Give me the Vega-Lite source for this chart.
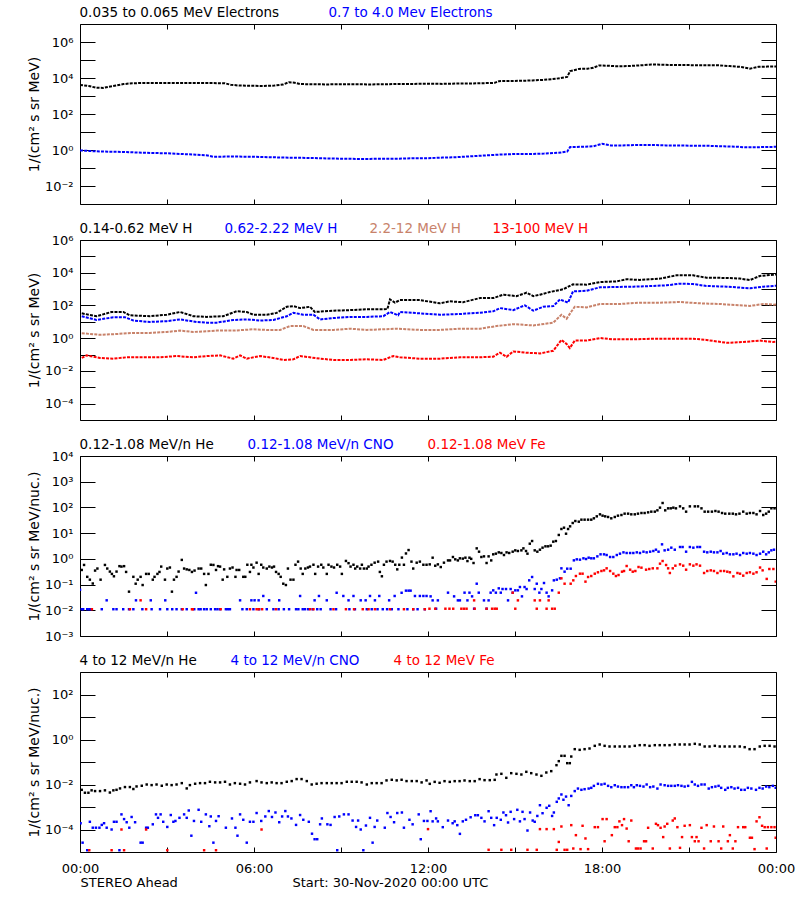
{
"$schema": "https://vega.github.io/schema/vega-lite/v6.json",
"background": "white",
"padding": {"left": 26, "top": 5, "right": 2, "bottom": 5},
"spacing": 36,
"bounds": "flush",
"resolve": {"scale": {"color": "independent"}, "legend": {"color": "independent"}},
"datasets": {
"e1": [{"h":0,"v":4100},{"h":0.3,"v":3600},{"h":0.55,"v":2900},{"h":0.8,"v":2800},{"h":1.0,"v":3300},{"h":1.25,"v":3800},{"h":1.5,"v":4600},{"h":1.8,"v":5100},{"h":2.2,"v":5300},{"h":2.6,"v":5200},{"h":3.0,"v":5300},{"h":3.4,"v":5200},{"h":3.8,"v":5300},{"h":4.2,"v":5200},{"h":4.6,"v":5200},{"h":5.0,"v":5100},{"h":5.2,"v":4200},{"h":5.5,"v":3800},{"h":5.9,"v":3700},{"h":6.3,"v":3600},{"h":6.7,"v":3800},{"h":7.0,"v":4300},{"h":7.2,"v":5800},{"h":7.4,"v":5500},{"h":7.6,"v":4600},{"h":8.0,"v":4500},{"h":8.5,"v":4400},{"h":9.0,"v":4500},{"h":9.5,"v":4500},{"h":10.0,"v":4400},{"h":10.5,"v":4500},{"h":11.0,"v":4700},{"h":11.5,"v":4700},{"h":12.0,"v":4800},{"h":12.5,"v":4700},{"h":13.0,"v":4900},{"h":13.5,"v":5000},{"h":14.0,"v":5200},{"h":14.3,"v":5400},{"h":14.45,"v":6700},{"h":14.8,"v":6800},{"h":15.2,"v":7000},{"h":15.6,"v":7300},{"h":16.0,"v":7900},{"h":16.4,"v":9000},{"h":16.8,"v":11500},{"h":16.9,"v":24000},{"h":17.2,"v":32000},{"h":17.5,"v":33000},{"h":17.7,"v":37000},{"h":17.9,"v":50000},{"h":18.2,"v":48000},{"h":18.5,"v":45000},{"h":18.9,"v":46000},{"h":19.3,"v":50000},{"h":19.7,"v":56000},{"h":20.1,"v":55000},{"h":20.5,"v":52000},{"h":21.0,"v":52000},{"h":21.5,"v":51000},{"h":22.0,"v":51000},{"h":22.4,"v":46000},{"h":22.8,"v":41000},{"h":23.1,"v":33000},{"h":23.4,"v":42000},{"h":23.7,"v":43000},{"h":24.0,"v":43000}],
"e2": [{"h":0,"v":0.95},{"h":0.5,"v":0.85},{"h":1.0,"v":0.8},{"h":1.5,"v":0.78},{"h":2.0,"v":0.72},{"h":2.5,"v":0.68},{"h":3.0,"v":0.66},{"h":3.5,"v":0.6},{"h":4.0,"v":0.55},{"h":4.4,"v":0.5},{"h":4.6,"v":0.42},{"h":5.0,"v":0.43},{"h":5.5,"v":0.43},{"h":6.0,"v":0.42},{"h":6.5,"v":0.4},{"h":7.0,"v":0.38},{"h":7.5,"v":0.37},{"h":8.0,"v":0.36},{"h":8.5,"v":0.34},{"h":9.0,"v":0.33},{"h":9.5,"v":0.32},{"h":10.0,"v":0.32},{"h":10.5,"v":0.33},{"h":11.0,"v":0.33},{"h":11.5,"v":0.35},{"h":12.0,"v":0.35},{"h":12.5,"v":0.38},{"h":13.0,"v":0.4},{"h":13.5,"v":0.45},{"h":14.0,"v":0.5},{"h":14.5,"v":0.56},{"h":15.0,"v":0.6},{"h":15.5,"v":0.6},{"h":16.0,"v":0.63},{"h":16.5,"v":0.7},{"h":16.8,"v":0.82},{"h":16.9,"v":1.45},{"h":17.3,"v":1.5},{"h":17.7,"v":1.6},{"h":18.0,"v":2.2},{"h":18.3,"v":1.8},{"h":18.7,"v":1.8},{"h":19.2,"v":1.9},{"h":19.7,"v":1.9},{"h":20.2,"v":1.8},{"h":20.7,"v":1.8},{"h":21.2,"v":1.7},{"h":21.7,"v":1.7},{"h":22.2,"v":1.6},{"h":22.7,"v":1.5},{"h":23.0,"v":1.4},{"h":23.5,"v":1.45},{"h":24.0,"v":1.5}],
"h1": [{"h":0.06,"v":33},{"h":0.57,"v":22},{"h":1.09,"v":40},{"h":1.49,"v":40},{"h":1.72,"v":25},{"h":2.41,"v":22},{"h":2.99,"v":27},{"h":3.45,"v":40},{"h":3.91,"v":22},{"h":4.37,"v":20},{"h":4.94,"v":22},{"h":5.4,"v":44},{"h":5.75,"v":40},{"h":5.98,"v":27},{"h":6.44,"v":27},{"h":6.78,"v":35},{"h":7.13,"v":83},{"h":7.36,"v":91},{"h":7.59,"v":69},{"h":7.93,"v":83},{"h":8.1,"v":40},{"h":8.74,"v":48},{"h":9.31,"v":52},{"h":9.89,"v":58},{"h":10.46,"v":58},{"h":10.6,"v":60},{"h":10.69,"v":234},{"h":10.86,"v":148},{"h":11.03,"v":214},{"h":11.72,"v":214},{"h":12.41,"v":135},{"h":12.75,"v":178},{"h":13.21,"v":158},{"h":13.79,"v":282},{"h":14.25,"v":282},{"h":14.6,"v":457},{"h":15.05,"v":372},{"h":15.4,"v":603},{"h":15.63,"v":372},{"h":15.86,"v":457},{"h":16.2,"v":661},{"h":16.66,"v":977},{"h":17.0,"v":1950},{"h":17.47,"v":1860},{"h":17.93,"v":2690},{"h":18.5,"v":2950},{"h":18.85,"v":3980},{"h":19.3,"v":3630},{"h":20.0,"v":4370},{"h":20.57,"v":6920},{"h":21.14,"v":6920},{"h":21.6,"v":5010},{"h":22.3,"v":4790},{"h":22.75,"v":4370},{"h":23.1,"v":3550},{"h":23.44,"v":6310},{"h":23.9,"v":7590},{"h":24.0,"v":7800}],
"h2": [{"h":0.06,"v":22},{"h":0.57,"v":13},{"h":1.15,"v":19},{"h":1.55,"v":19},{"h":1.84,"v":12},{"h":2.41,"v":9.8},{"h":2.99,"v":11},{"h":3.45,"v":14},{"h":4.02,"v":9.8},{"h":4.37,"v":8.9},{"h":4.71,"v":8.9},{"h":5.29,"v":13},{"h":5.75,"v":14},{"h":6.21,"v":12},{"h":6.67,"v":13},{"h":7.13,"v":22},{"h":7.36,"v":36},{"h":7.7,"v":27},{"h":8.05,"v":27},{"h":8.28,"v":14},{"h":8.74,"v":17},{"h":9.31,"v":20},{"h":9.89,"v":20},{"h":10.46,"v":22},{"h":10.69,"v":40},{"h":10.97,"v":25},{"h":11.03,"v":40},{"h":11.72,"v":33},{"h":12.41,"v":27},{"h":13.1,"v":30},{"h":13.79,"v":36},{"h":14.25,"v":44},{"h":14.48,"v":69},{"h":14.94,"v":52},{"h":15.34,"v":102},{"h":15.63,"v":48},{"h":15.97,"v":83},{"h":16.32,"v":91},{"h":16.55,"v":234},{"h":16.83,"v":148},{"h":17.0,"v":724},{"h":17.47,"v":794},{"h":17.93,"v":1290},{"h":18.5,"v":1350},{"h":19.08,"v":1410},{"h":19.77,"v":1550},{"h":20.23,"v":1700},{"h":20.68,"v":2140},{"h":21.14,"v":2040},{"h":21.6,"v":1550},{"h":22.3,"v":1410},{"h":23.1,"v":1120},{"h":23.56,"v":1410},{"h":23.9,"v":1550},{"h":24.0,"v":1600}],
"h3": [{"h":0.06,"v":2.0},{"h":0.69,"v":1.6},{"h":1.26,"v":1.8},{"h":1.84,"v":2.1},{"h":2.41,"v":2.1},{"h":2.99,"v":2.4},{"h":3.45,"v":2.9},{"h":3.91,"v":2.4},{"h":4.71,"v":2.9},{"h":5.29,"v":2.9},{"h":5.98,"v":3.5},{"h":6.44,"v":3.2},{"h":6.9,"v":3.2},{"h":7.24,"v":5.5},{"h":7.7,"v":5.5},{"h":8.05,"v":3.2},{"h":8.74,"v":3.2},{"h":9.31,"v":3.8},{"h":9.89,"v":3.2},{"h":10.46,"v":3.5},{"h":10.92,"v":3.8},{"h":11.72,"v":3.2},{"h":12.41,"v":3.2},{"h":13.1,"v":3.8},{"h":13.79,"v":3.8},{"h":14.36,"v":5.5},{"h":14.94,"v":7.2},{"h":15.63,"v":6.0},{"h":16.32,"v":8.9},{"h":16.6,"v":27},{"h":16.78,"v":15.5},{"h":16.95,"v":44},{"h":17.06,"v":83},{"h":17.47,"v":76},{"h":17.93,"v":123},{"h":18.62,"v":123},{"h":19.31,"v":148},{"h":20.0,"v":148},{"h":20.68,"v":162},{"h":21.37,"v":135},{"h":22.06,"v":123},{"h":23.1,"v":93},{"h":23.56,"v":123},{"h":23.9,"v":112},{"h":24.0,"v":115}],
"h4": [{"h":0.06,"v":0.062},{"h":0.23,"v":0.089},{"h":0.69,"v":0.062},{"h":1.15,"v":0.056},{"h":1.61,"v":0.068},{"h":2.18,"v":0.068},{"h":2.76,"v":0.068},{"h":3.33,"v":0.081},{"h":3.91,"v":0.068},{"h":4.37,"v":0.081},{"h":4.83,"v":0.089},{"h":5.29,"v":0.056},{"h":5.52,"v":0.089},{"h":5.75,"v":0.056},{"h":6.21,"v":0.081},{"h":6.67,"v":0.062},{"h":7.01,"v":0.047},{"h":7.36,"v":0.051},{"h":7.59,"v":0.081},{"h":8.28,"v":0.056},{"h":8.74,"v":0.047},{"h":9.31,"v":0.047},{"h":9.89,"v":0.051},{"h":10.46,"v":0.047},{"h":10.8,"v":0.081},{"h":11.03,"v":0.068},{"h":11.72,"v":0.056},{"h":12.41,"v":0.056},{"h":13.1,"v":0.068},{"h":13.79,"v":0.068},{"h":14.25,"v":0.074},{"h":14.48,"v":0.129},{"h":14.71,"v":0.074},{"h":14.94,"v":0.155},{"h":15.4,"v":0.129},{"h":15.86,"v":0.117},{"h":16.32,"v":0.17},{"h":16.6,"v":0.78},{"h":16.78,"v":0.44},{"h":16.89,"v":0.25},{"h":17.06,"v":0.71},{"h":17.47,"v":0.71},{"h":17.93,"v":1.02},{"h":18.39,"v":0.85},{"h":19.08,"v":0.85},{"h":19.77,"v":0.93},{"h":20.46,"v":0.93},{"h":21.14,"v":0.93},{"h":21.6,"v":0.78},{"h":22.3,"v":0.52},{"h":22.87,"v":0.58},{"h":23.44,"v":0.71},{"h":23.9,"v":0.58},{"h":24.0,"v":0.6}],
"a1": [{"h":0.06,"v":0.37},{"h":0.14,"v":0.58},{"h":0.25,"v":0.2},{"h":0.34,"v":0.155},{"h":0.44,"v":0.11},{"h":0.52,"v":0.35},{"h":0.6,"v":0.42},{"h":0.71,"v":0.155},{"h":0.86,"v":0.58},{"h":0.94,"v":0.42},{"h":1.03,"v":0.32},{"h":1.1,"v":0.26},{"h":1.17,"v":0.21},{"h":1.26,"v":0.32},{"h":1.36,"v":0.52},{"h":1.43,"v":0.5},{"h":1.52,"v":0.52},{"h":1.59,"v":0.31},{"h":1.69,"v":0.053},{"h":1.84,"v":0.2},{"h":1.92,"v":0.108},{"h":1.99,"v":0.155},{"h":2.09,"v":0.2},{"h":2.16,"v":0.096},{"h":2.28,"v":0.26},{"h":2.37,"v":0.26},{"h":2.51,"v":0.155},{"h":2.57,"v":0.2},{"h":2.67,"v":0.26},{"h":2.74,"v":0.31},{"h":2.8,"v":0.5},{"h":2.93,"v":0.155},{"h":3.01,"v":0.42},{"h":3.1,"v":0.46},{"h":3.17,"v":0.053},{"h":3.24,"v":0.155},{"h":3.33,"v":0.2},{"h":3.4,"v":0.32},{"h":3.51,"v":0.91},{"h":3.59,"v":0.42},{"h":3.68,"v":0.39},{"h":3.77,"v":0.37},{"h":3.86,"v":0.31},{"h":3.95,"v":0.35},{"h":4.09,"v":0.42},{"h":4.18,"v":0.42},{"h":4.28,"v":0.26},{"h":4.34,"v":0.096},{"h":4.43,"v":0.26},{"h":4.51,"v":0.59},{"h":4.6,"v":0.58},{"h":4.69,"v":0.37},{"h":4.76,"v":0.52},{"h":4.83,"v":0.5},{"h":4.92,"v":0.155},{"h":4.97,"v":0.39},{"h":5.08,"v":0.2},{"h":5.17,"v":0.42},{"h":5.26,"v":0.46},{"h":5.36,"v":0.2},{"h":5.4,"v":0.37},{"h":5.49,"v":0.37},{"h":5.63,"v":0.2},{"h":5.7,"v":0.2},{"h":5.77,"v":0.59},{"h":5.86,"v":0.31},{"h":5.91,"v":0.59},{"h":5.98,"v":0.46},{"h":6.09,"v":0.71},{"h":6.16,"v":0.26},{"h":6.25,"v":0.59},{"h":6.32,"v":0.46},{"h":6.44,"v":0.42},{"h":6.53,"v":0.5},{"h":6.62,"v":0.46},{"h":6.69,"v":0.5},{"h":6.76,"v":0.31},{"h":6.85,"v":0.26},{"h":6.92,"v":0.2},{"h":7.01,"v":0.108},{"h":7.1,"v":0.096},{"h":7.17,"v":0.42},{"h":7.26,"v":0.155},{"h":7.36,"v":0.155},{"h":7.43,"v":0.59},{"h":7.52,"v":0.78},{"h":7.61,"v":0.42},{"h":7.68,"v":0.26},{"h":7.77,"v":0.42},{"h":7.86,"v":0.46},{"h":7.93,"v":0.5},{"h":8.05,"v":0.59},{"h":8.11,"v":0.26},{"h":8.21,"v":0.5},{"h":8.32,"v":0.59},{"h":8.39,"v":0.46},{"h":8.51,"v":0.26},{"h":8.57,"v":0.59},{"h":8.67,"v":0.5},{"h":8.76,"v":0.46},{"h":8.87,"v":0.59},{"h":8.97,"v":0.5},{"h":9.03,"v":0.26},{"h":9.17,"v":0.83},{"h":9.26,"v":0.68},{"h":9.33,"v":0.5},{"h":9.43,"v":0.59},{"h":9.49,"v":0.42},{"h":9.56,"v":0.5},{"h":9.66,"v":0.42},{"h":9.72,"v":0.59},{"h":9.79,"v":0.42},{"h":9.89,"v":0.42},{"h":9.95,"v":0.5},{"h":10.05,"v":0.59},{"h":10.16,"v":0.71},{"h":10.28,"v":0.78},{"h":10.34,"v":0.31},{"h":10.41,"v":0.21},{"h":10.48,"v":0.59},{"h":10.57,"v":0.78},{"h":10.69,"v":0.83},{"h":10.78,"v":0.78},{"h":10.87,"v":0.59},{"h":10.94,"v":0.39},{"h":11.01,"v":0.59},{"h":11.1,"v":1.12},{"h":11.17,"v":0.59},{"h":11.24,"v":1.62},{"h":11.33,"v":2.2},{"h":11.43,"v":0.78},{"h":11.49,"v":0.42},{"h":11.61,"v":0.71},{"h":11.72,"v":0.78},{"h":11.84,"v":0.59},{"h":11.95,"v":0.59},{"h":12.06,"v":0.61},{"h":12.16,"v":1.11},{"h":12.25,"v":0.54},{"h":12.34,"v":0.61},{"h":12.44,"v":0.48},{"h":12.55,"v":0.71},{"h":12.69,"v":0.87},{"h":12.76,"v":0.87},{"h":12.86,"v":1.18},{"h":12.94,"v":0.96},{"h":13.03,"v":0.87},{"h":13.1,"v":1.05},{"h":13.2,"v":1.02},{"h":13.29,"v":1.11},{"h":13.36,"v":0.82},{"h":13.43,"v":1.11},{"h":13.49,"v":1.0},{"h":13.57,"v":0.69},{"h":13.68,"v":2.56},{"h":13.76,"v":1.9},{"h":13.84,"v":1.18},{"h":13.93,"v":1.25},{"h":14.02,"v":0.69},{"h":14.09,"v":1.25},{"h":14.18,"v":0.87},{"h":14.25,"v":1.5},{"h":14.34,"v":1.59},{"h":14.44,"v":1.79},{"h":14.53,"v":1.69},{"h":14.62,"v":1.41},{"h":14.71,"v":1.79},{"h":14.8,"v":1.69},{"h":14.92,"v":1.9},{"h":15.01,"v":2.14},{"h":15.1,"v":2.02},{"h":15.22,"v":2.14},{"h":15.29,"v":2.56},{"h":15.38,"v":2.02},{"h":15.43,"v":1.59},{"h":15.51,"v":3.89},{"h":15.59,"v":4.94},{"h":15.68,"v":2.14},{"h":15.77,"v":1.9},{"h":15.86,"v":2.27},{"h":15.95,"v":2.72},{"h":16.05,"v":3.07},{"h":16.14,"v":3.07},{"h":16.23,"v":3.26},{"h":16.32,"v":4.66},{"h":16.41,"v":4.94},{"h":16.51,"v":8.5},{"h":16.6,"v":14.5},{"h":16.69,"v":16.3},{"h":16.76,"v":9.5},{"h":16.83,"v":14.5},{"h":16.9,"v":18.4},{"h":16.99,"v":24.8},{"h":17.08,"v":29.6},{"h":17.2,"v":27.9},{"h":17.29,"v":33.4},{"h":17.4,"v":33.4},{"h":17.52,"v":33.4},{"h":17.63,"v":33.4},{"h":17.72,"v":37.7},{"h":17.82,"v":45},{"h":17.93,"v":53.9},{"h":18.02,"v":47.8},{"h":18.11,"v":45},{"h":18.21,"v":42.5},{"h":18.32,"v":37.7},{"h":18.44,"v":42.5},{"h":18.55,"v":47.8},{"h":18.67,"v":50.7},{"h":18.78,"v":57.2},{"h":18.9,"v":57.2},{"h":19.01,"v":53.9},{"h":19.13,"v":53.9},{"h":19.24,"v":57.2},{"h":19.36,"v":60.7},{"h":19.47,"v":60.7},{"h":19.59,"v":64.4},{"h":19.7,"v":68.4},{"h":19.82,"v":68.4},{"h":19.91,"v":77.1},{"h":20.0,"v":97.9},{"h":20.09,"v":148.6},{"h":20.18,"v":77.1},{"h":20.28,"v":92.2},{"h":20.37,"v":92.2},{"h":20.46,"v":97.9},{"h":20.55,"v":92.2},{"h":20.69,"v":110},{"h":20.8,"v":92.2},{"h":20.9,"v":68.4},{"h":21.03,"v":110},{"h":21.2,"v":110},{"h":21.31,"v":110},{"h":21.43,"v":92.2},{"h":21.54,"v":68.4},{"h":21.66,"v":68.4},{"h":21.79,"v":68.4},{"h":21.91,"v":72.6},{"h":22.02,"v":68.4},{"h":22.14,"v":60.7},{"h":22.25,"v":57.2},{"h":22.39,"v":57.2},{"h":22.51,"v":57.2},{"h":22.62,"v":53.9},{"h":22.74,"v":57.2},{"h":22.87,"v":68.4},{"h":22.99,"v":57.2},{"h":23.1,"v":60.7},{"h":23.22,"v":60.7},{"h":23.33,"v":53.9},{"h":23.45,"v":72.6},{"h":23.56,"v":50.7},{"h":23.66,"v":57.2},{"h":23.75,"v":68.4},{"h":23.84,"v":92.2},{"h":23.95,"v":92.2}],
"a2": [{"h":0.0,"v":0.063},{"h":0.06,"v":0.011},{"h":0.11,"v":0.011},{"h":0.25,"v":0.011},{"h":0.32,"v":0.011},{"h":0.37,"v":0.011},{"h":0.75,"v":0.011},{"h":0.92,"v":0.0244},{"h":1.15,"v":0.011},{"h":1.26,"v":0.011},{"h":1.49,"v":0.011},{"h":1.69,"v":0.011},{"h":1.84,"v":0.011},{"h":1.93,"v":0.0244},{"h":2.15,"v":0.011},{"h":2.44,"v":0.0244},{"h":2.47,"v":0.011},{"h":2.76,"v":0.011},{"h":2.94,"v":0.0244},{"h":3.01,"v":0.011},{"h":3.18,"v":0.011},{"h":3.33,"v":0.011},{"h":3.51,"v":0.011},{"h":3.68,"v":0.011},{"h":3.94,"v":0.011},{"h":4.0,"v":0.048},{"h":4.09,"v":0.011},{"h":4.16,"v":0.011},{"h":4.28,"v":0.011},{"h":4.37,"v":0.011},{"h":4.51,"v":0.011},{"h":4.66,"v":0.011},{"h":4.74,"v":0.011},{"h":4.83,"v":0.011},{"h":5.03,"v":0.011},{"h":5.1,"v":0.011},{"h":5.17,"v":0.011},{"h":5.52,"v":0.0244},{"h":5.6,"v":0.011},{"h":5.75,"v":0.011},{"h":5.91,"v":0.0244},{"h":5.98,"v":0.011},{"h":6.02,"v":0.0244},{"h":6.16,"v":0.0244},{"h":6.18,"v":0.011},{"h":6.32,"v":0.036},{"h":6.44,"v":0.011},{"h":6.52,"v":0.0244},{"h":6.67,"v":0.011},{"h":6.85,"v":0.011},{"h":6.87,"v":0.0244},{"h":7.03,"v":0.011},{"h":7.21,"v":0.011},{"h":7.45,"v":0.011},{"h":7.53,"v":0.011},{"h":7.59,"v":0.036},{"h":7.68,"v":0.011},{"h":7.76,"v":0.011},{"h":7.87,"v":0.011},{"h":8.02,"v":0.011},{"h":8.09,"v":0.0244},{"h":8.18,"v":0.011},{"h":8.24,"v":0.036},{"h":8.3,"v":0.011},{"h":8.51,"v":0.0244},{"h":8.64,"v":0.011},{"h":8.83,"v":0.011},{"h":8.85,"v":0.048},{"h":9.08,"v":0.036},{"h":9.26,"v":0.0244},{"h":9.29,"v":0.011},{"h":9.43,"v":0.036},{"h":9.48,"v":0.011},{"h":9.68,"v":0.0244},{"h":9.85,"v":0.0244},{"h":9.89,"v":0.011},{"h":10.0,"v":0.036},{"h":10.06,"v":0.011},{"h":10.17,"v":0.0244},{"h":10.26,"v":0.011},{"h":10.32,"v":0.036},{"h":10.44,"v":0.011},{"h":10.59,"v":0.011},{"h":10.66,"v":0.0244},{"h":10.75,"v":0.011},{"h":10.85,"v":0.036},{"h":10.98,"v":0.011},{"h":11.09,"v":0.048},{"h":11.24,"v":0.058},{"h":11.29,"v":0.011},{"h":11.33,"v":0.058},{"h":11.4,"v":0.058},{"h":11.49,"v":0.011},{"h":11.55,"v":0.036},{"h":11.64,"v":0.011},{"h":11.72,"v":0.036},{"h":11.84,"v":0.036},{"h":11.89,"v":0.011},{"h":11.95,"v":0.036},{"h":12.09,"v":0.0348},{"h":12.16,"v":0.0243},{"h":12.28,"v":0.0115},{"h":12.34,"v":0.0243},{"h":12.69,"v":0.0484},{"h":12.9,"v":0.0348},{"h":13.03,"v":0.0243},{"h":13.1,"v":0.0243},{"h":13.26,"v":0.0484},{"h":13.36,"v":0.0243},{"h":13.43,"v":0.0484},{"h":13.52,"v":0.0348},{"h":13.59,"v":0.0115},{"h":13.68,"v":0.108},{"h":13.75,"v":0.0484},{"h":13.93,"v":0.0243},{"h":14.02,"v":0.0115},{"h":14.09,"v":0.0243},{"h":14.16,"v":0.0484},{"h":14.25,"v":0.0596},{"h":14.34,"v":0.0484},{"h":14.44,"v":0.0713},{"h":14.51,"v":0.0484},{"h":14.57,"v":0.0671},{"h":14.69,"v":0.0671},{"h":14.76,"v":0.0243},{"h":14.85,"v":0.0671},{"h":14.92,"v":0.0484},{"h":15.01,"v":0.0596},{"h":15.1,"v":0.0596},{"h":15.17,"v":0.0803},{"h":15.24,"v":0.0348},{"h":15.33,"v":0.0803},{"h":15.4,"v":0.0671},{"h":15.49,"v":0.146},{"h":15.59,"v":0.197},{"h":15.68,"v":0.0671},{"h":15.75,"v":0.108},{"h":15.84,"v":0.0484},{"h":15.91,"v":0.0671},{"h":16.0,"v":0.115},{"h":16.09,"v":0.0484},{"h":16.16,"v":0.0348},{"h":16.28,"v":0.0596},{"h":16.34,"v":0.146},{"h":16.44,"v":0.155},{"h":16.55,"v":0.175},{"h":16.6,"v":0.428},{"h":16.71,"v":0.317},{"h":16.8,"v":0.415},{"h":16.92,"v":0.415},{"h":17.03,"v":0.875},{"h":17.13,"v":0.957},{"h":17.24,"v":0.929},{"h":17.36,"v":1.05},{"h":17.45,"v":0.986},{"h":17.54,"v":1.11},{"h":17.63,"v":1.05},{"h":17.72,"v":1.05},{"h":17.84,"v":1.25},{"h":17.95,"v":1.5},{"h":18.07,"v":1.5},{"h":18.16,"v":1.41},{"h":18.28,"v":1.18},{"h":18.39,"v":1.18},{"h":18.51,"v":1.41},{"h":18.62,"v":1.59},{"h":18.74,"v":1.79},{"h":18.85,"v":1.69},{"h":18.97,"v":1.69},{"h":19.08,"v":1.69},{"h":19.2,"v":1.79},{"h":19.31,"v":1.69},{"h":19.43,"v":1.9},{"h":19.54,"v":1.79},{"h":19.66,"v":1.9},{"h":19.77,"v":2.02},{"h":19.86,"v":2.27},{"h":19.95,"v":1.9},{"h":20.07,"v":3.67},{"h":20.16,"v":2.14},{"h":20.28,"v":2.27},{"h":20.39,"v":2.72},{"h":20.51,"v":2.27},{"h":20.69,"v":2.89},{"h":20.78,"v":2.89},{"h":20.9,"v":1.9},{"h":21.03,"v":2.89},{"h":21.15,"v":2.72},{"h":21.29,"v":2.89},{"h":21.38,"v":2.89},{"h":21.52,"v":1.9},{"h":21.63,"v":1.79},{"h":21.75,"v":1.9},{"h":21.86,"v":1.79},{"h":21.98,"v":1.79},{"h":22.09,"v":2.02},{"h":22.18,"v":1.59},{"h":22.3,"v":1.69},{"h":22.41,"v":1.5},{"h":22.53,"v":1.5},{"h":22.64,"v":1.59},{"h":22.76,"v":1.41},{"h":22.87,"v":1.69},{"h":22.99,"v":1.59},{"h":23.1,"v":1.69},{"h":23.22,"v":1.59},{"h":23.33,"v":1.41},{"h":23.45,"v":1.59},{"h":23.56,"v":1.9},{"h":23.66,"v":1.5},{"h":23.75,"v":1.79},{"h":23.84,"v":2.14},{"h":23.93,"v":2.27}],
"a3": [{"h":0.41,"v":0.011},{"h":1.72,"v":0.011},{"h":2.09,"v":0.0244},{"h":2.28,"v":0.011},{"h":3.54,"v":0.011},{"h":3.86,"v":0.011},{"h":3.89,"v":0.011},{"h":4.85,"v":0.011},{"h":5.86,"v":0.011},{"h":6.09,"v":0.011},{"h":6.16,"v":0.011},{"h":6.28,"v":0.011},{"h":6.76,"v":0.011},{"h":7.93,"v":0.011},{"h":8.05,"v":0.011},{"h":8.74,"v":0.011},{"h":9.17,"v":0.011},{"h":9.45,"v":0.011},{"h":9.75,"v":0.011},{"h":9.95,"v":0.011},{"h":10.17,"v":0.011},{"h":10.69,"v":0.011},{"h":11.17,"v":0.011},{"h":11.49,"v":0.011},{"h":11.89,"v":0.011},{"h":12.05,"v":0.0115},{"h":12.25,"v":0.0115},{"h":12.6,"v":0.0115},{"h":12.74,"v":0.0115},{"h":12.87,"v":0.0115},{"h":13.15,"v":0.0115},{"h":13.24,"v":0.0115},{"h":13.33,"v":0.0115},{"h":13.59,"v":0.0243},{"h":13.61,"v":0.0115},{"h":14.02,"v":0.0115},{"h":14.21,"v":0.0115},{"h":14.3,"v":0.0115},{"h":14.37,"v":0.0115},{"h":14.92,"v":0.0484},{"h":15.01,"v":0.0115},{"h":15.1,"v":0.0243},{"h":15.68,"v":0.0243},{"h":15.75,"v":0.0115},{"h":15.86,"v":0.0243},{"h":16.09,"v":0.0115},{"h":16.16,"v":0.0243},{"h":16.28,"v":0.0115},{"h":16.37,"v":0.0115},{"h":16.51,"v":0.0484},{"h":16.6,"v":0.175},{"h":16.71,"v":0.108},{"h":16.92,"v":0.108},{"h":17.01,"v":0.146},{"h":17.1,"v":0.215},{"h":17.24,"v":0.265},{"h":17.33,"v":0.265},{"h":17.43,"v":0.13},{"h":17.52,"v":0.197},{"h":17.63,"v":0.215},{"h":17.75,"v":0.265},{"h":17.86,"v":0.3},{"h":17.98,"v":0.337},{"h":18.07,"v":0.357},{"h":18.16,"v":0.428},{"h":18.28,"v":0.337},{"h":18.39,"v":0.265},{"h":18.48,"v":0.215},{"h":18.57,"v":0.235},{"h":18.69,"v":0.317},{"h":18.76,"v":0.337},{"h":18.85,"v":0.527},{"h":18.97,"v":0.379},{"h":19.06,"v":0.317},{"h":19.15,"v":0.337},{"h":19.26,"v":0.482},{"h":19.36,"v":0.454},{"h":19.52,"v":0.379},{"h":19.63,"v":0.403},{"h":19.75,"v":0.428},{"h":19.91,"v":0.428},{"h":20.0,"v":0.65},{"h":20.09,"v":0.824},{"h":20.21,"v":0.577},{"h":20.28,"v":0.428},{"h":20.34,"v":0.282},{"h":20.44,"v":0.428},{"h":20.53,"v":0.543},{"h":20.69,"v":0.612},{"h":20.8,"v":0.543},{"h":20.9,"v":0.379},{"h":21.03,"v":0.612},{"h":21.15,"v":0.543},{"h":21.26,"v":0.612},{"h":21.38,"v":0.543},{"h":21.52,"v":0.282},{"h":21.63,"v":0.337},{"h":21.75,"v":0.357},{"h":21.86,"v":0.337},{"h":21.98,"v":0.282},{"h":22.09,"v":0.337},{"h":22.21,"v":0.337},{"h":22.32,"v":0.317},{"h":22.41,"v":0.3},{"h":22.53,"v":0.209},{"h":22.67,"v":0.282},{"h":22.76,"v":0.265},{"h":22.87,"v":0.222},{"h":22.99,"v":0.282},{"h":23.1,"v":0.3},{"h":23.22,"v":0.265},{"h":23.33,"v":0.3},{"h":23.45,"v":0.46},{"h":23.54,"v":0.357},{"h":23.68,"v":0.166},{"h":23.77,"v":0.403},{"h":23.91,"v":0.403},{"h":23.99,"v":0.13}],
"b1": [{"h":0.06,"v":0.0058},{"h":0.17,"v":0.0043},{"h":0.29,"v":0.0043},{"h":0.4,"v":0.0055},{"h":0.52,"v":0.0051},{"h":0.69,"v":0.0051},{"h":0.86,"v":0.0055},{"h":1.03,"v":0.0044},{"h":1.15,"v":0.0055},{"h":1.26,"v":0.0058},{"h":1.38,"v":0.0067},{"h":1.55,"v":0.0077},{"h":1.72,"v":0.0077},{"h":1.84,"v":0.0063},{"h":1.95,"v":0.0082},{"h":2.13,"v":0.0088},{"h":2.3,"v":0.01},{"h":2.47,"v":0.0094},{"h":2.64,"v":0.01},{"h":2.82,"v":0.0088},{"h":2.99,"v":0.01},{"h":3.16,"v":0.0094},{"h":3.33,"v":0.01},{"h":3.51,"v":0.0115},{"h":3.68,"v":0.0067},{"h":3.79,"v":0.0094},{"h":3.97,"v":0.0108},{"h":4.14,"v":0.0115},{"h":4.31,"v":0.0115},{"h":4.48,"v":0.0132},{"h":4.66,"v":0.0124},{"h":4.83,"v":0.0124},{"h":5.0,"v":0.0132},{"h":5.17,"v":0.01},{"h":5.34,"v":0.0115},{"h":5.52,"v":0.0108},{"h":5.69,"v":0.01},{"h":5.86,"v":0.0124},{"h":6.09,"v":0.0142},{"h":6.26,"v":0.0124},{"h":6.44,"v":0.0115},{"h":6.61,"v":0.0124},{"h":6.78,"v":0.0115},{"h":6.95,"v":0.0115},{"h":7.13,"v":0.0132},{"h":7.3,"v":0.0142},{"h":7.47,"v":0.0174},{"h":7.64,"v":0.0174},{"h":7.82,"v":0.0142},{"h":7.99,"v":0.01},{"h":8.16,"v":0.0108},{"h":8.33,"v":0.0115},{"h":8.51,"v":0.0115},{"h":8.68,"v":0.0115},{"h":8.85,"v":0.0115},{"h":9.02,"v":0.0115},{"h":9.2,"v":0.0132},{"h":9.37,"v":0.0132},{"h":9.54,"v":0.0132},{"h":9.71,"v":0.0124},{"h":9.89,"v":0.01},{"h":10.06,"v":0.0115},{"h":10.23,"v":0.0115},{"h":10.4,"v":0.0115},{"h":10.57,"v":0.0152},{"h":10.75,"v":0.0162},{"h":10.92,"v":0.0152},{"h":11.09,"v":0.0162},{"h":11.26,"v":0.0142},{"h":11.44,"v":0.0142},{"h":11.61,"v":0.0142},{"h":11.78,"v":0.0124},{"h":11.95,"v":0.0152},{"h":12.06,"v":0.0107},{"h":12.23,"v":0.0131},{"h":12.4,"v":0.0119},{"h":12.57,"v":0.0141},{"h":12.75,"v":0.0131},{"h":12.92,"v":0.0141},{"h":13.09,"v":0.0141},{"h":13.26,"v":0.0151},{"h":13.44,"v":0.0141},{"h":13.61,"v":0.0141},{"h":13.78,"v":0.0173},{"h":13.95,"v":0.0156},{"h":14.13,"v":0.0156},{"h":14.3,"v":0.0161},{"h":14.36,"v":0.0278},{"h":14.53,"v":0.0298},{"h":14.7,"v":0.0198},{"h":14.87,"v":0.0319},{"h":15.05,"v":0.0298},{"h":15.22,"v":0.0278},{"h":15.39,"v":0.0366},{"h":15.56,"v":0.0319},{"h":15.74,"v":0.0278},{"h":15.91,"v":0.0243},{"h":16.08,"v":0.0341},{"h":16.25,"v":0.0392},{"h":16.43,"v":0.0723},{"h":16.51,"v":0.109},{"h":16.6,"v":0.188},{"h":16.71,"v":0.188},{"h":16.8,"v":0.0887},{"h":16.89,"v":0.0887},{"h":16.94,"v":0.175},{"h":17.06,"v":0.372},{"h":17.23,"v":0.347},{"h":17.4,"v":0.372},{"h":17.57,"v":0.398},{"h":17.75,"v":0.523},{"h":17.92,"v":0.6},{"h":18.09,"v":0.523},{"h":18.26,"v":0.489},{"h":18.44,"v":0.489},{"h":18.61,"v":0.489},{"h":18.78,"v":0.489},{"h":18.95,"v":0.489},{"h":19.13,"v":0.523},{"h":19.3,"v":0.56},{"h":19.47,"v":0.56},{"h":19.64,"v":0.523},{"h":19.82,"v":0.56},{"h":19.99,"v":0.56},{"h":20.16,"v":0.56},{"h":20.33,"v":0.56},{"h":20.51,"v":0.6},{"h":20.68,"v":0.6},{"h":20.85,"v":0.6},{"h":21.02,"v":0.6},{"h":21.2,"v":0.642},{"h":21.37,"v":0.6},{"h":21.54,"v":0.489},{"h":21.71,"v":0.489},{"h":21.89,"v":0.523},{"h":22.06,"v":0.489},{"h":22.23,"v":0.489},{"h":22.4,"v":0.489},{"h":22.57,"v":0.489},{"h":22.75,"v":0.489},{"h":22.92,"v":0.456},{"h":23.09,"v":0.372},{"h":23.26,"v":0.372},{"h":23.44,"v":0.489},{"h":23.61,"v":0.523},{"h":23.78,"v":0.523},{"h":23.95,"v":0.489}],
"b2": [{"h":0.02,"v":0.00019},{"h":0.09,"v":0.000026},{"h":0.25,"v":0.000012},{"h":0.34,"v":0.00022},{"h":0.44,"v":0.00012},{"h":0.55,"v":0.00012},{"h":0.67,"v":0.00012},{"h":0.75,"v":0.00016},{"h":0.83,"v":0.00019},{"h":0.92,"v":0.00012},{"h":1.09,"v":0.0001},{"h":1.17,"v":0.00022},{"h":1.26,"v":0.00022},{"h":1.36,"v":0.000012},{"h":1.43,"v":0.00047},{"h":1.52,"v":0.00029},{"h":1.61,"v":0.00021},{"h":1.7,"v":0.00012},{"h":1.78,"v":0.00036},{"h":1.9,"v":0.00021},{"h":2.09,"v":0.000026},{"h":2.16,"v":0.000026},{"h":2.28,"v":0.00012},{"h":2.34,"v":0.00012},{"h":2.51,"v":0.00017},{"h":2.62,"v":0.00047},{"h":2.69,"v":0.00033},{"h":2.78,"v":0.00047},{"h":2.87,"v":0.00022},{"h":3.01,"v":0.00013},{"h":3.13,"v":0.00044},{"h":3.22,"v":0.00022},{"h":3.29,"v":0.00024},{"h":3.43,"v":0.00033},{"h":3.59,"v":0.00047},{"h":3.68,"v":0.00033},{"h":3.75,"v":0.0007},{"h":3.84,"v":0.000053},{"h":3.93,"v":0.00024},{"h":4.09,"v":0.00075},{"h":4.18,"v":0.00022},{"h":4.34,"v":0.00047},{"h":4.46,"v":0.00014},{"h":4.51,"v":0.00038},{"h":4.6,"v":0.000026},{"h":4.69,"v":0.00024},{"h":4.78,"v":0.00039},{"h":5.03,"v":0.00012},{"h":5.24,"v":0.00031},{"h":5.36,"v":0.00012},{"h":5.43,"v":0.000053},{"h":5.52,"v":0.00047},{"h":5.63,"v":0.00027},{"h":5.75,"v":0.000026},{"h":5.86,"v":0.00022},{"h":5.98,"v":0.00022},{"h":6.09,"v":0.00054},{"h":6.25,"v":0.00024},{"h":6.39,"v":0.00038},{"h":6.51,"v":0.00066},{"h":6.62,"v":0.00036},{"h":6.74,"v":0.00057},{"h":6.87,"v":0.00021},{"h":6.97,"v":0.00038},{"h":7.08,"v":0.00066},{"h":7.17,"v":0.00038},{"h":7.29,"v":0.00031},{"h":7.45,"v":0.00016},{"h":7.59,"v":0.00044},{"h":7.7,"v":0.00027},{"h":7.89,"v":0.00022},{"h":8.0,"v":0.000065},{"h":8.09,"v":0.000037},{"h":8.18,"v":0.000037},{"h":8.28,"v":0.00017},{"h":8.34,"v":0.00031},{"h":8.53,"v":0.00017},{"h":8.64,"v":0.00016},{"h":8.78,"v":0.00036},{"h":8.87,"v":0.000012},{"h":8.94,"v":0.00038},{"h":9.1,"v":0.00047},{"h":9.26,"v":0.00047},{"h":9.4,"v":0.00025},{"h":9.52,"v":0.00013},{"h":9.59,"v":0.00025},{"h":9.68,"v":0.0001},{"h":9.77,"v":0.000012},{"h":9.86,"v":0.00015},{"h":10.0,"v":0.00033},{"h":10.09,"v":0.000026},{"h":10.16,"v":0.00013},{"h":10.25,"v":0.00025},{"h":10.51,"v":0.00012},{"h":10.6,"v":0.00054},{"h":10.71,"v":0.00036},{"h":10.83,"v":0.00021},{"h":10.94,"v":0.00054},{"h":11.1,"v":0.00057},{"h":11.17,"v":0.00012},{"h":11.36,"v":0.00027},{"h":11.47,"v":0.00017},{"h":11.68,"v":0.00047},{"h":11.75,"v":0.000037},{"h":11.86,"v":0.00024},{"h":11.98,"v":0.00024},{"h":12.09,"v":0.00065},{"h":12.16,"v":0.00023},{"h":12.28,"v":0.00031},{"h":12.34,"v":0.00023},{"h":12.51,"v":0.000127},{"h":12.69,"v":0.00025},{"h":12.85,"v":0.00019},{"h":12.92,"v":0.00023},{"h":13.01,"v":0.000156},{"h":13.1,"v":0.000064},{"h":13.2,"v":0.00023},{"h":13.31,"v":0.00027},{"h":13.47,"v":0.00035},{"h":13.63,"v":0.00043},{"h":13.72,"v":0.00043},{"h":13.84,"v":0.00033},{"h":13.95,"v":0.00023},{"h":14.09,"v":0.00065},{"h":14.18,"v":0.00033},{"h":14.28,"v":0.000156},{"h":14.37,"v":0.00033},{"h":14.51,"v":0.00027},{"h":14.6,"v":0.00057},{"h":14.69,"v":0.00043},{"h":14.76,"v":0.000205},{"h":14.85,"v":0.00061},{"h":14.97,"v":0.00029},{"h":15.08,"v":0.00075},{"h":15.17,"v":0.00023},{"h":15.26,"v":0.00061},{"h":15.33,"v":0.00029},{"h":15.43,"v":0.00009},{"h":15.52,"v":0.00057},{"h":15.61,"v":0.00025},{"h":15.68,"v":0.00022},{"h":15.77,"v":0.0004},{"h":15.86,"v":0.0012},{"h":15.95,"v":0.00053},{"h":16.09,"v":0.00092},{"h":16.18,"v":0.00113},{"h":16.28,"v":0.0004},{"h":16.34,"v":0.00057},{"h":16.44,"v":0.0017},{"h":16.51,"v":0.0024},{"h":16.6,"v":0.0036},{"h":16.67,"v":0.0021},{"h":16.76,"v":0.0029},{"h":16.85,"v":0.0012},{"h":16.94,"v":0.0031},{"h":17.06,"v":0.0051},{"h":17.17,"v":0.0066},{"h":17.29,"v":0.0058},{"h":17.4,"v":0.0062},{"h":17.54,"v":0.0066},{"h":17.63,"v":0.0071},{"h":17.72,"v":0.0087},{"h":17.86,"v":0.0107},{"h":17.98,"v":0.01},{"h":18.09,"v":0.0107},{"h":18.21,"v":0.0087},{"h":18.32,"v":0.0076},{"h":18.44,"v":0.0093},{"h":18.55,"v":0.0081},{"h":18.67,"v":0.0076},{"h":18.78,"v":0.0076},{"h":18.9,"v":0.0076},{"h":19.01,"v":0.0093},{"h":19.1,"v":0.0076},{"h":19.2,"v":0.0093},{"h":19.31,"v":0.0087},{"h":19.43,"v":0.0081},{"h":19.54,"v":0.01},{"h":19.66,"v":0.0076},{"h":19.77,"v":0.0081},{"h":19.91,"v":0.0066},{"h":20.02,"v":0.01},{"h":20.16,"v":0.0093},{"h":20.28,"v":0.0087},{"h":20.39,"v":0.0087},{"h":20.51,"v":0.0087},{"h":20.62,"v":0.0093},{"h":20.74,"v":0.0087},{"h":20.85,"v":0.0081},{"h":20.97,"v":0.0087},{"h":21.1,"v":0.0131},{"h":21.2,"v":0.01},{"h":21.31,"v":0.0087},{"h":21.43,"v":0.01},{"h":21.54,"v":0.01},{"h":21.68,"v":0.0066},{"h":21.79,"v":0.0076},{"h":21.91,"v":0.0081},{"h":22.02,"v":0.0087},{"h":22.11,"v":0.0071},{"h":22.25,"v":0.0058},{"h":22.34,"v":0.0071},{"h":22.46,"v":0.0076},{"h":22.57,"v":0.0066},{"h":22.69,"v":0.0071},{"h":22.8,"v":0.0058},{"h":22.92,"v":0.0058},{"h":23.03,"v":0.0071},{"h":23.15,"v":0.0066},{"h":23.31,"v":0.0058},{"h":23.43,"v":0.0071},{"h":23.54,"v":0.0066},{"h":23.66,"v":0.0081},{"h":23.77,"v":0.0076},{"h":23.89,"v":0.0087},{"h":23.99,"v":0.0071}],
"b3": [{"h":0.32,"v":0.000012},{"h":1.09,"v":0.000012},{"h":1.43,"v":0.0001},{"h":1.52,"v":0.000012},{"h":2.28,"v":0.0001},{"h":3.01,"v":0.000012},{"h":4.28,"v":0.000012},{"h":4.69,"v":0.000012},{"h":6.26,"v":0.0001},{"h":12.0,"v":0.000104},{"h":14.09,"v":0.0000125},{"h":14.53,"v":0.0000125},{"h":14.87,"v":0.0000125},{"h":15.43,"v":0.0000125},{"h":15.75,"v":0.0000125},{"h":15.86,"v":0.000104},{"h":16.09,"v":0.000104},{"h":16.34,"v":0.000104},{"h":16.44,"v":0.0000125},{"h":16.51,"v":0.000028},{"h":16.6,"v":0.000136},{"h":16.71,"v":0.0000125},{"h":16.8,"v":0.0000125},{"h":16.94,"v":0.000156},{"h":17.01,"v":0.0000143},{"h":17.1,"v":0.000056},{"h":17.26,"v":0.0000134},{"h":17.33,"v":0.000146},{"h":17.43,"v":0.00004},{"h":17.52,"v":0.0000134},{"h":17.75,"v":0.000127},{"h":17.86,"v":0.000127},{"h":18.02,"v":0.00029},{"h":18.09,"v":0.00003},{"h":18.16,"v":0.00029},{"h":18.34,"v":0.000056},{"h":18.44,"v":0.000127},{"h":18.53,"v":0.000127},{"h":18.6,"v":0.00023},{"h":18.69,"v":0.000156},{"h":18.76,"v":0.00029},{"h":18.85,"v":0.00011},{"h":18.92,"v":0.00003},{"h":19.01,"v":0.00025},{"h":19.17,"v":0.0000143},{"h":19.24,"v":0.0000143},{"h":19.33,"v":0.0000143},{"h":19.45,"v":0.00003},{"h":19.52,"v":0.00003},{"h":19.59,"v":0.000119},{"h":19.75,"v":0.0000143},{"h":19.86,"v":0.000179},{"h":19.93,"v":0.000156},{"h":20.02,"v":0.000119},{"h":20.11,"v":0.000046},{"h":20.16,"v":0.000136},{"h":20.25,"v":0.000179},{"h":20.34,"v":0.0000143},{"h":20.44,"v":0.00025},{"h":20.51,"v":0.00031},{"h":20.6,"v":0.000127},{"h":20.69,"v":0.0000153},{"h":20.76,"v":0.000046},{"h":20.85,"v":0.000146},{"h":21.03,"v":0.000156},{"h":21.1,"v":0.000046},{"h":21.2,"v":0.00003},{"h":21.26,"v":0.000046},{"h":21.33,"v":0.00003},{"h":21.43,"v":0.000119},{"h":21.52,"v":0.0000143},{"h":21.61,"v":0.000156},{"h":21.75,"v":0.00003},{"h":21.86,"v":0.000136},{"h":22.02,"v":0.00003},{"h":22.11,"v":0.0000143},{"h":22.18,"v":0.000136},{"h":22.34,"v":0.00003},{"h":22.41,"v":0.000056},{"h":22.51,"v":0.0000143},{"h":22.6,"v":0.00003},{"h":22.69,"v":0.000127},{"h":22.87,"v":0.000127},{"h":22.94,"v":0.000127},{"h":23.1,"v":0.000043},{"h":23.17,"v":0.000043},{"h":23.26,"v":0.0000134},{"h":23.33,"v":0.00023},{"h":23.43,"v":0.00035},{"h":23.52,"v":0.000146},{"h":23.61,"v":0.000127},{"h":23.68,"v":0.0000143},{"h":23.72,"v":0.000127},{"h":23.84,"v":0.000127},{"h":23.95,"v":0.000127},{"h":23.99,"v":0.000043}]
},
"vconcat": [
{
 "width": 696, "height": 180,
 "resolve": {"axis": {"x": "independent", "y": "independent"}},
 "layer": [
  {"data": {"name": "e1"}, "mark": {"type": "line", "strokeWidth": 2, "strokeDash": [3, 1.2], "clip": true},
   "encoding": {
    "x": {"field": "h", "type": "quantitative", "scale": {"domain": [0, 24], "nice": false, "zero": false}, "axis": {"orient": "bottom", "values": [0,3,6,9,12,15,18,21,24], "tickSize": -5, "labels": false, "title": null}},
    "y": {"field": "v", "type": "quantitative", "scale": {"type": "log", "domain": [0.001, 10000000], "nice": false}, "axis": {"orient": "left", "values": [0.01,0.1,1,10,100,1000,10000,100000,1000000], "tickSize": -15, "labelPadding": 22, "labelExpr": "abs(round(log(datum.value)/LN10))%2==1 ? '' : ['10⁻⁵','10⁻⁴','10⁻³','10⁻²','10⁻¹','10⁰','10¹','10²','10³','10⁴','10⁵','10⁶','10⁷'][round(log(datum.value)/LN10)+5]", "title": "1/(cm² s sr MeV)", "titlePadding": 3, "encode": {"ticks": {"update": {"x2": {"signal": "abs(round(log(datum.value)/LN10))%2==0 ? 15 : 8"}}}}}},
    "color": {"datum": "0.035 to 0.065 MeV Electrons", "type": "nominal", "scale": {"domain": ["0.035 to 0.065 MeV Electrons", "0.7 to 4.0 Mev Electrons"], "range": ["#000000", "#0000ff"]}, "legend": {"title": null, "columnPadding": 48, "encode": {"labels": {"update": {"fill": {"signal": "datum.value == '0.7 to 4.0 Mev Electrons' ? '#0000ff' : '#000000'"}}}}}}
   }},
  {"data": {"name": "e2"}, "mark": {"type": "line", "strokeWidth": 2, "strokeDash": [3, 1.2], "clip": true},
   "encoding": {
    "x": {"field": "h", "type": "quantitative", "axis": {"orient": "top", "values": [0,3,6,9,12,15,18,21,24], "tickSize": -5, "labels": false, "title": null}},
    "y": {"field": "v", "type": "quantitative", "axis": {"orient": "right", "values": [0.01,0.1,1,10,100,1000,10000,100000,1000000], "tickSize": -15, "labels": false, "title": null, "encode": {"ticks": {"update": {"x2": {"signal": "abs(round(log(datum.value)/LN10))%2==0 ? -15 : -8"}}}}}},
    "color": {"datum": "0.7 to 4.0 Mev Electrons", "type": "nominal"}
   }}
 ]
},
{
 "width": 696, "height": 180,
 "resolve": {"axis": {"x": "independent", "y": "independent"}},
 "layer": [
  {"data": {"name": "h1"}, "mark": {"type": "line", "strokeWidth": 2, "strokeDash": [3, 1.2], "clip": true},
   "encoding": {
    "x": {"field": "h", "type": "quantitative", "scale": {"domain": [0, 24], "nice": false, "zero": false}, "axis": {"orient": "bottom", "values": [0,3,6,9,12,15,18,21,24], "tickSize": -5, "labels": false, "title": null}},
    "y": {"field": "v", "type": "quantitative", "scale": {"type": "log", "domain": [0.00001, 1000000], "nice": false}, "axis": {"orient": "left", "values": [0.0001,0.001,0.01,0.1,1,10,100,1000,10000,100000,1000000], "tickSize": -15, "labelPadding": 22, "labelExpr": "abs(round(log(datum.value)/LN10))%2==1 ? '' : ['10⁻⁵','10⁻⁴','10⁻³','10⁻²','10⁻¹','10⁰','10¹','10²','10³','10⁴','10⁵','10⁶','10⁷'][round(log(datum.value)/LN10)+5]", "title": "1/(cm² s sr MeV)", "titlePadding": 3, "encode": {"ticks": {"update": {"x2": {"signal": "abs(round(log(datum.value)/LN10))%2==0 ? 15 : 8"}}}}}},
    "color": {"datum": "0.14-0.62 MeV H", "type": "nominal", "scale": {"domain": ["0.14-0.62 MeV H", "0.62-2.22 MeV H", "2.2-12 MeV H", "13-100 MeV H"], "range": ["#000000", "#0000ff", "#c8826a", "#ff0000"]}, "legend": {"title": null, "columnPadding": 31, "encode": {"labels": {"update": {"fill": {"signal": "datum.value == '0.62-2.22 MeV H' ? '#0000ff' : datum.value == '2.2-12 MeV H' ? '#c8826a' : datum.value == '13-100 MeV H' ? '#ff0000' : '#000000'"}}}}}}
   }},
  {"data": {"name": "h2"}, "mark": {"type": "line", "strokeWidth": 2, "strokeDash": [3, 1.2], "clip": true},
   "encoding": {
    "x": {"field": "h", "type": "quantitative", "axis": {"orient": "top", "values": [0,3,6,9,12,15,18,21,24], "tickSize": -5, "labels": false, "title": null}},
    "y": {"field": "v", "type": "quantitative", "axis": {"orient": "right", "values": [0.0001,0.001,0.01,0.1,1,10,100,1000,10000,100000,1000000], "tickSize": -15, "labels": false, "title": null, "encode": {"ticks": {"update": {"x2": {"signal": "abs(round(log(datum.value)/LN10))%2==0 ? -15 : -8"}}}}}},
    "color": {"datum": "0.62-2.22 MeV H", "type": "nominal"}
   }},
  {"data": {"name": "h3"}, "mark": {"type": "line", "strokeWidth": 2, "strokeDash": [3, 1.2], "clip": true},
   "encoding": {
    "x": {"field": "h", "type": "quantitative", "axis": null},
    "y": {"field": "v", "type": "quantitative", "axis": null},
    "color": {"datum": "2.2-12 MeV H", "type": "nominal"}
   }},
  {"data": {"name": "h4"}, "mark": {"type": "line", "strokeWidth": 2, "strokeDash": [3, 1.2], "clip": true},
   "encoding": {
    "x": {"field": "h", "type": "quantitative", "axis": null},
    "y": {"field": "v", "type": "quantitative", "axis": null},
    "color": {"datum": "13-100 MeV H", "type": "nominal"}
   }}
 ]
},
{
 "width": 696, "height": 180,
 "resolve": {"axis": {"x": "independent", "y": "independent"}},
 "layer": [
  {"data": {"name": "a1"}, "mark": {"type": "point", "shape": "square", "filled": true, "size": 6, "opacity": 1, "clip": true},
   "encoding": {
    "x": {"field": "h", "type": "quantitative", "scale": {"domain": [0, 24], "nice": false, "zero": false}, "axis": {"orient": "bottom", "values": [0,3,6,9,12,15,18,21,24], "tickSize": -5, "labels": false, "title": null}},
    "y": {"field": "v", "type": "quantitative", "scale": {"type": "log", "domain": [0.001, 10000], "nice": false}, "axis": {"orient": "left", "values": [0.001,0.01,0.1,1,10,100,1000,10000], "tickSize": -15, "labelPadding": 22, "labelExpr": "['10⁻⁵','10⁻⁴','10⁻³','10⁻²','10⁻¹','10⁰','10¹','10²','10³','10⁴','10⁵','10⁶','10⁷'][round(log(datum.value)/LN10)+5]", "title": "1/(cm² s sr MeV/nuc.)", "titlePadding": 3}},
    "color": {"datum": "0.12-1.08 MeV/n He", "type": "nominal", "scale": {"domain": ["0.12-1.08 MeV/n He", "0.12-1.08 MeV/n CNO", "0.12-1.08 MeV Fe"], "range": ["#000000", "#0000ff", "#ff0000"]}, "legend": {"title": null, "columnPadding": 33, "encode": {"labels": {"update": {"fill": {"signal": "datum.value == '0.12-1.08 MeV/n CNO' ? '#0000ff' : datum.value == '0.12-1.08 MeV Fe' ? '#ff0000' : '#000000'"}}}}}}
   }},
  {"data": {"name": "a2"}, "mark": {"type": "point", "shape": "square", "filled": true, "size": 6, "opacity": 1, "clip": true},
   "encoding": {
    "x": {"field": "h", "type": "quantitative", "axis": {"orient": "top", "values": [0,3,6,9,12,15,18,21,24], "tickSize": -5, "labels": false, "title": null}},
    "y": {"field": "v", "type": "quantitative", "axis": {"orient": "right", "values": [0.001,0.01,0.1,1,10,100,1000,10000], "tickSize": -15, "labels": false, "title": null}},
    "color": {"datum": "0.12-1.08 MeV/n CNO", "type": "nominal"}
   }},
  {"data": {"name": "a3"}, "mark": {"type": "point", "shape": "square", "filled": true, "size": 6, "opacity": 1, "clip": true},
   "encoding": {
    "x": {"field": "h", "type": "quantitative", "axis": null},
    "y": {"field": "v", "type": "quantitative", "axis": null},
    "color": {"datum": "0.12-1.08 MeV Fe", "type": "nominal"}
   }}
 ]
},
{
 "width": 696, "height": 180,
 "resolve": {"axis": {"x": "independent", "y": "independent"}},
 "layer": [
  {"data": {"name": "b1"}, "mark": {"type": "point", "shape": "square", "filled": true, "size": 6, "opacity": 1, "clip": true},
   "encoding": {
    "x": {"field": "h", "type": "quantitative", "scale": {"domain": [0, 24], "nice": false, "zero": false}, "axis": {"orient": "bottom", "values": [0,3,6,9,12,15,18,21,24], "tickSize": -5, "labelPadding": 15, "labelExpr": "datum.value % 6 == 0 ? (datum.value % 24 == 0 ? '00:00' : (datum.value < 10 ? '0' + datum.value + ':00' : datum.value + ':00')) : ''", "title": "STEREO Ahead", "titleX": 0, "titleY": 30, "titleAlign": "left", "titleBaseline": "middle", "titleFontSize": 13}},
    "y": {"field": "v", "type": "quantitative", "scale": {"type": "log", "domain": [0.00001, 1000], "nice": false}, "axis": {"orient": "left", "values": [0.0001,0.001,0.01,0.1,1,10,100], "tickSize": -15, "labelPadding": 22, "labelExpr": "abs(round(log(datum.value)/LN10))%2==1 ? '' : ['10⁻⁵','10⁻⁴','10⁻³','10⁻²','10⁻¹','10⁰','10¹','10²','10³','10⁴','10⁵','10⁶','10⁷'][round(log(datum.value)/LN10)+5]", "title": "1/(cm² s sr MeV/nuc.)", "titlePadding": 3, "encode": {"ticks": {"update": {"x2": {"signal": "abs(round(log(datum.value)/LN10))%2==0 ? 15 : 8"}}}}}},
    "color": {"datum": "4 to 12 MeV/n He", "type": "nominal", "scale": {"domain": ["4 to 12 MeV/n He", "4 to 12 MeV/n CNO", "4 to 12 MeV Fe"], "range": ["#000000", "#0000ff", "#ff0000"]}, "legend": {"title": null, "columnPadding": 33, "encode": {"labels": {"update": {"fill": {"signal": "datum.value == '4 to 12 MeV/n CNO' ? '#0000ff' : datum.value == '4 to 12 MeV Fe' ? '#ff0000' : '#000000'"}}}}}}
   }},
  {"data": {"name": "b2"}, "mark": {"type": "point", "shape": "square", "filled": true, "size": 6, "opacity": 1, "clip": true},
   "encoding": {
    "x": {"field": "h", "type": "quantitative", "axis": {"orient": "top", "values": [0,3,6,9,12,15,18,21,24], "tickSize": -5, "labels": false, "title": null}},
    "y": {"field": "v", "type": "quantitative", "axis": {"orient": "right", "values": [0.0001,0.001,0.01,0.1,1,10,100], "tickSize": -15, "labels": false, "title": null, "encode": {"ticks": {"update": {"x2": {"signal": "abs(round(log(datum.value)/LN10))%2==0 ? -15 : -8"}}}}}},
    "color": {"datum": "4 to 12 MeV/n CNO", "type": "nominal"}
   }},
  {"data": {"name": "b3"}, "mark": {"type": "point", "shape": "square", "filled": true, "size": 6, "opacity": 1, "clip": true},
   "encoding": {
    "x": {"field": "h", "type": "quantitative", "axis": {"orient": "bottom", "ticks": false, "labels": false, "domain": false, "title": "Start: 30-Nov-2020 00:00 UTC", "titleX": 212, "titleY": 30, "titleAlign": "left", "titleBaseline": "middle", "titleFontSize": 13}},
    "y": {"field": "v", "type": "quantitative", "axis": null},
    "color": {"datum": "4 to 12 MeV Fe", "type": "nominal"}
   }}
 ]
}
],
"config": {
 "view": {"stroke": "#000000", "strokeWidth": 1},
 "axis": {"domain": false, "grid": false, "tickColor": "#000000", "tickWidth": 1, "labelColor": "#000000", "labelFont": "DejaVu Sans", "labelFontSize": 13, "titleFont": "DejaVu Sans", "titleFontSize": 14, "titleFontWeight": "normal", "titleColor": "#000000", "labelFlush": false, "labelOverlap": false, "labelBound": false},
 "legend": {"orient": "top", "direction": "horizontal", "labelFont": "DejaVu Sans", "labelFontSize": 13.5, "labelLimit": 500, "symbolSize": 0, "symbolStrokeWidth": 0, "symbolOpacity": 0, "labelOffset": -14, "offset": 3, "padding": 0}
}
}
